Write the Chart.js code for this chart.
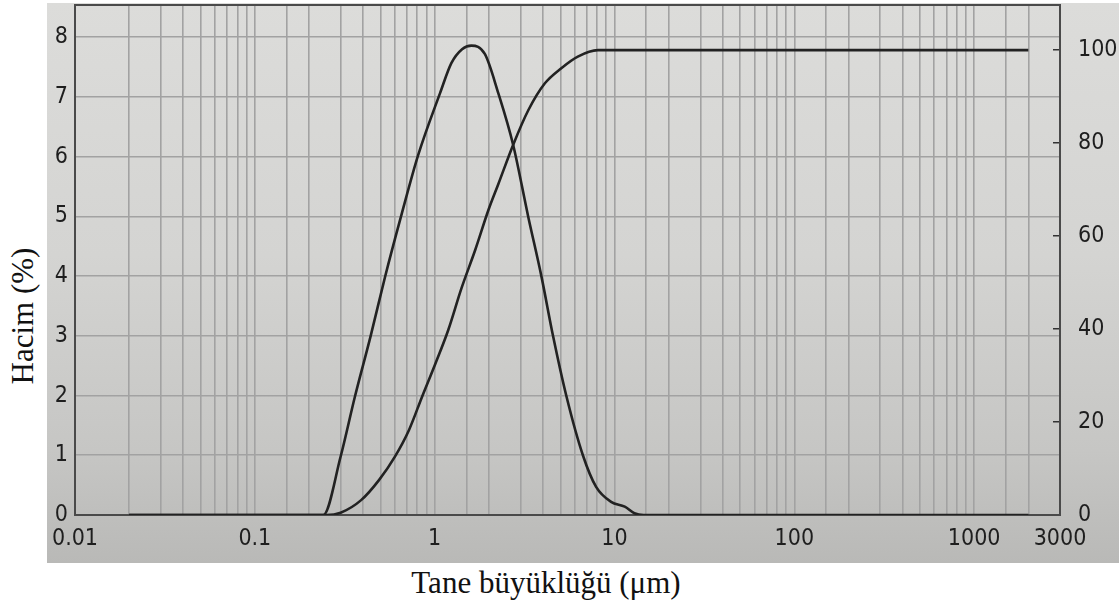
<!DOCTYPE html>
<html>
<head>
<meta charset="utf-8">
<script src="https://cdn.jsdelivr.net/npm/chart.js@4"></script>
<style>
  body { margin: 0; background: #fff; width: 1119px; height: 612px; position: relative; overflow: hidden; }
  #wrap { position: absolute; left: 47px; top: 3px; width: 1072px; height: 560px;
          background: linear-gradient(to bottom, #dcdcda 0%, #d4d4d2 45%, #c6c6c4 80%, #b9b9b7 100%); }
  .title { position: absolute; font-family: "Liberation Serif", "Times New Roman", serif; font-size: 31px;
           line-height: 31px; color: #111; white-space: nowrap; }
  #xTitle { left: 546px; top: 567px; transform: translateX(-50%); }
  #yTitle { left: 22px; top: 316px; transform: translate(-50%, -50%) rotate(-90deg); }
</style>
</head>
<body>
<div id="wrap"><canvas id="psdChart" width="1072" height="560"></canvas></div>
<div class="title" id="xTitle">Tane büyüklüğü (μm)</div>
<div class="title" id="yTitle">Hacim (%)</div>
<script>
// particle size distribution
const freqSizes = [0.02, 0.24, 0.30, 0.36, 0.44, 0.53, 0.65, 0.81, 1.07, 1.24, 1.42, 1.60, 1.90, 2.26, 2.73, 3.31, 3.92, 4.55, 5.39, 6.67, 7.90, 9.57, 11.4, 12.9, 14.5, 2000];
const freqValues = [0, 0, 0.98, 1.98, 2.99, 3.99, 5.0, 6.03, 7.06, 7.57, 7.80, 7.86, 7.72, 7.06, 6.2, 5.0, 4.0, 3.0, 2.0, 1.0, 0.47, 0.22, 0.14, 0.03, 0, 0];

const cumSizes = [0.02, 0.25, 0.30, 0.39, 0.49, 0.60, 0.72, 0.85, 1.01, 1.19, 1.41, 1.68, 1.99, 2.26, 2.73, 3.31, 4.09, 5.06, 6.25, 8.07, 2000];
const cumValues = [0, 0, 0.5, 3.2, 7.5, 12.5, 18.3, 25.4, 32.6, 39.8, 48.8, 57.0, 65.6, 71.2, 79.6, 87.0, 92.8, 96.1, 98.6, 100, 100];

const xTickLabels = ['0.01', '0.1', '1', '10', '100', '1000', '3000'];

const tickFont = { family: '"DejaVu Sans Condensed", "Liberation Sans Narrow", sans-serif', size: 23 };
const lineColor = '#222';
const gridColor = '#a2a2a2';

const frame = {
  id: 'frame',
  beforeDatasetsDraw(chart) {
    const a = chart.chartArea;
    const ctx = chart.ctx;
    ctx.save();
    ctx.strokeStyle = '#4a4a4a';
    ctx.lineWidth = 2;
    ctx.strokeRect(a.left, a.top, a.right - a.left, a.bottom - a.top);
    ctx.restore();
  }
};

// fixed axis sizes, no extra label padding around the plot
function fixSize(w, h) {
  return (s) => {
    if (w != null) s.width = w;
    if (h != null) s.height = h;
    s.paddingTop = 0; s.paddingBottom = 0; s.paddingLeft = 0; s.paddingRight = 0;
  };
}

const ctx = document.getElementById('psdChart');
new Chart(ctx, {
  type: 'line',
  data: {
    datasets: [{
      label: 'Hacim',
      data: freqSizes.map((s, i) => ({ x: s, y: freqValues[i] })),
      yAxisID: 'y',
      borderColor: lineColor,
      borderWidth: 2.6,
      pointRadius: 0,
      cubicInterpolationMode: 'monotone'
    }, {
      label: 'Kümülatif',
      data: cumSizes.map((s, i) => ({ x: s, y: cumValues[i] })),
      yAxisID: 'y2',
      borderColor: lineColor,
      borderWidth: 2.6,
      pointRadius: 0,
      cubicInterpolationMode: 'monotone'
    }]
  },
  options: {
    responsive: false,
    animation: false,
    layout: { padding: { top: 2, left: 0, right: 0, bottom: 0 } },
    plugins: { legend: { display: false }, tooltip: { enabled: false } },
    scales: {
      x: {
        type: 'logarithmic',
        min: 0.01,
        max: 3000,
        border: { display: false },
        grid: { color: gridColor, lineWidth: 1.6, drawTicks: false },
        ticks: {
          autoSkip: false,
          maxRotation: 0,
          padding: 10,
          color: '#1e1e1e',
          font: tickFont,
          callback: (v) => {
            const hit = xTickLabels.find(l => Math.abs(Math.log10(v) - Math.log10(Number(l))) < 1e-6);
            return hit || '';
          }
        },
        afterFit: fixSize(null, 48)
      },
      y: {
        position: 'left',
        min: 0,
        max: 8.54,
        border: { display: false },
        grid: { color: gridColor, lineWidth: 1.6, drawTicks: false },
        ticks: { stepSize: 1, padding: 7, color: '#1e1e1e', font: tickFont,
                 callback: (v) => Number.isInteger(v) ? String(v) : '' },
        afterFit: fixSize(28, null)
      },
      y2: {
        position: 'right',
        min: 0,
        max: 109.7,
        border: { display: false },
        grid: { drawOnChartArea: false, drawTicks: true, tickLength: -7, tickColor: '#333', lineWidth: 1.5 },
        ticks: { stepSize: 20, padding: 25, color: '#1e1e1e', font: tickFont,
                 callback: (v) => (v <= 100 && v % 20 === 0) ? String(v) : '' },
        afterFit: fixSize(59, null)
      }
    }
  },
  plugins: [frame]
});
</script>
</body>
</html>
